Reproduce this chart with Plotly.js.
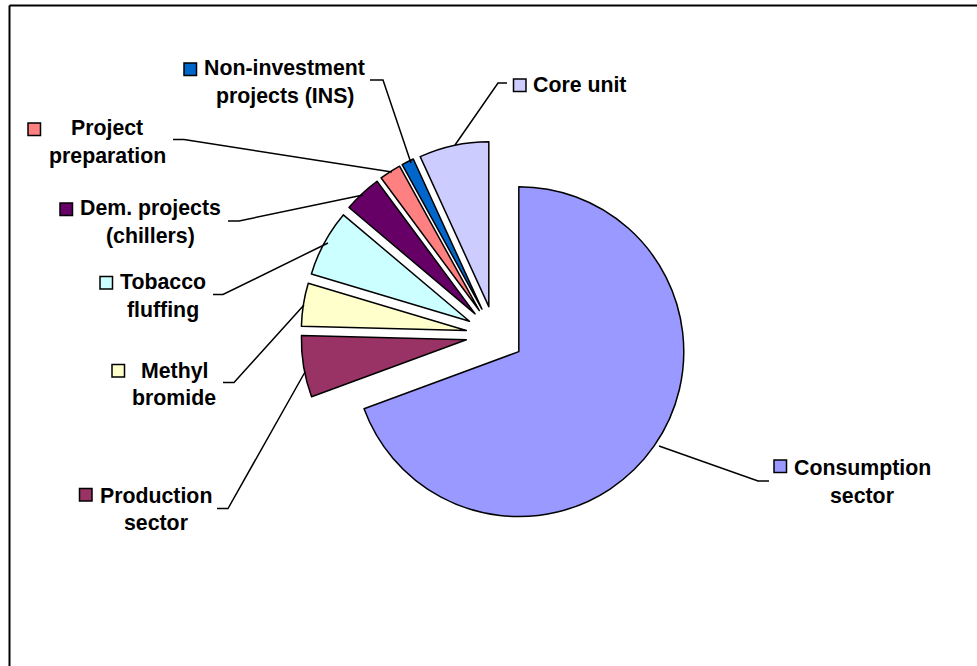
<!DOCTYPE html>
<html>
<head>
<meta charset="utf-8">
<script src="https://cdn.plot.ly/plotly-3.0.1.min.js"></script>
<style>
  html, body { margin: 0; padding: 0; background: #fff; }
  #chart { width: 977px; height: 666px; }
</style>
</head>
<body>
<div id="chart"></div>
<script>
// ---- data ----
const categories = ["Consumption sector", "Production sector", "Methyl bromide", "Tobacco fluffing",
                    "Dem. projects (chillers)", "Project preparation", "Non-investment projects (INS)", "Core unit"];
const values = [69.1, 6.0, 4.2, 6.5, 3.7, 2.1, 1.2, 6.8];
const colors = ["#9999FF", "#993366", "#FFFFCC", "#CCFFFF", "#660066", "#FF8080", "#0066CC", "#CCCCFF"];
const labelLines = [["Consumption", "sector"], ["Production", "sector"], ["Methyl", "bromide"], ["Tobacco", "fluffing"],
                    ["Dem. projects", "(chillers)"], ["Project", "preparation"], ["Non-investment", "projects (INS)"], ["Core unit"]];

// ---- label layout (pixel positions of label blocks and leader lines) ----
const W = 977, H = 666;
const px = x => x / W, py = y => 1 - y / H;
const fontSize = 21.3;
// key box [x0,y0,x1,y1]
const keyBoxes = [[774,460,786.5,472.5],[79.5,488.5,92,501],[112,364.5,124.5,377],[100,276.5,112.5,289],
                  [60,203,72.5,215.5],[28,123,40.5,135.5],[184,63,196.5,75.5],[513.5,79,526,91.5]];
// text centre x and first-line baseline
const textCx = [862, 156, 174, 162.5, 150.5, 107, 284.5, 579.5];
const textBase = [475.5, 503, 378, 289.5, 215.5, 135.5, 75.5, 92.5];
const lineGap = 27.5;
// leader line points
const leaders = [
  [[659,446],[758,481],[769,481]],
  [[305,372],[228,508.5],[217,508.5]],
  [[304,305],[234,382.5],[223,382.5]],
  [[328,243],[223,294.5],[213,294.5]],
  [[363,195],[239,221],[228,221]],
  [[392,172],[184,139.5],[173,139.5]],
  [[411,163],[383,80],[370,80]],
  [[455,145],[498,83],[507,83]]
];

const midOff = fontSize * (0.905 - 0.212) / 2;
const annotations = [];
const shapes = [];
categories.forEach((c, i) => {
  labelLines[i].forEach((t, j) => {
    annotations.push({
      text: '<b>' + t + '</b>', xref: 'paper', yref: 'paper',
      x: px(textCx[i]), y: py(textBase[i] + j * lineGap - midOff),
      xanchor: 'center', yanchor: 'middle', showarrow: false,
      font: {family: 'Liberation Sans, Arial, sans-serif', size: fontSize, color: '#000'}
    });
  });
  const k = keyBoxes[i];
  shapes.push({type: 'rect', xref: 'paper', yref: 'paper',
    x0: px(k[0]), x1: px(k[2]), y0: py(k[3]), y1: py(k[1]),
    fillcolor: colors[i], line: {color: '#000', width: 1.5}});
  const L = leaders[i];
  shapes.push({type: 'path', xref: 'paper', yref: 'paper',
    path: 'M ' + L.map(p => px(p[0]) + ',' + py(p[1])).join(' L '),
    line: {color: '#000', width: 1.5}});
});
// chart frame (top and left border)
shapes.push({type: 'line', xref: 'paper', yref: 'paper', x0: px(9.5), x1: 1, y0: py(5.5), y1: py(5.5), line: {color: '#000', width: 2}});
shapes.push({type: 'line', xref: 'paper', yref: 'paper', x0: px(9.5), x1: px(9.5), y0: py(5.5), y1: 0, line: {color: '#000', width: 2}});

const trace = {
  type: 'pie',
  labels: categories,
  values: values,
  sort: false,
  direction: 'clockwise',
  rotation: 0,
  pull: values.map(() => 0.176),
  marker: {colors: colors, line: {color: '#000', width: 1.5}},
  textinfo: 'none',
  hoverinfo: 'skip',
  showlegend: false,
  domain: {x: [px(301), px(689)], y: [py(529), py(141)]}
};

const layout = {
  width: W, height: H,
  margin: {l: 0, r: 0, t: 0, b: 0},
  paper_bgcolor: '#fff',
  showlegend: false,
  annotations: annotations,
  shapes: shapes
};

Plotly.newPlot('chart', [trace], layout, {displayModeBar: false, staticPlot: true});
</script>
</body>
</html>
